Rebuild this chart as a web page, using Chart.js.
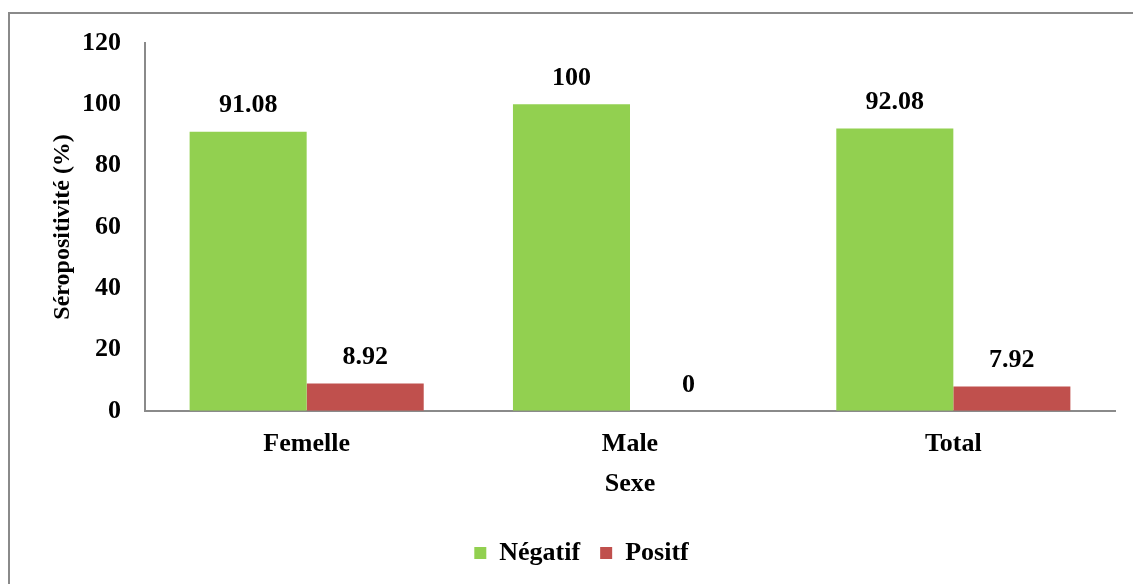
<!DOCTYPE html>
<html>
<head>
<meta charset="utf-8">
<script src="https://cdn.jsdelivr.net/npm/chart.js@4/dist/chart.umd.min.js"></script>
<style>
  html, body { margin: 0; padding: 0; background: #fff; overflow: hidden; }
  #wrap { position: relative; width: 1133px; height: 584px; }
  #frame {
    position: absolute; left: 8px; top: 12px; width: 1200px; height: 700px;
    border: 2px solid #8a8a8a; box-sizing: border-box; pointer-events: none;
  }
  canvas { position: absolute; left: 0; top: 0; }
</style>
</head>
<body>
<div id="wrap">
  <canvas id="chart" width="1133" height="584"></canvas>
  <div id="frame"></div>
</div>
<script>
// données du graphique
const categories = ['Femelle', 'Male', 'Total'];
const negatif = [91.08, 100, 92.08];
const positif = [8.92, 0, 7.92];
const yTicks = [0, 20, 40, 60, 80, 100, 120];

const FONT = '"Liberation Serif", "Times New Roman", serif';

// étiquettes de valeur au-dessus des barres
const barLabels = {
    id: 'barLabels',
    afterDatasetsDraw(chart) {
        const ctx = chart.ctx;
        ctx.save();
        ctx.font = 'bold 26px ' + FONT;
        ctx.fillStyle = '#000';
        ctx.textAlign = 'center';
        ctx.textBaseline = 'middle';
        chart.data.datasets.forEach((ds, i) => {
            const meta = chart.getDatasetMeta(i);
            meta.data.forEach((bar, j) => {
                ctx.fillText(String(ds.data[j]), bar.x, bar.y - 26);
            });
        });
        ctx.restore();
    }
};

const ctx = document.getElementById('chart');
new Chart(ctx, {
    type: 'bar',
    data: {
        labels: categories,
        datasets: [{
            label: 'Négatif',
            data: negatif,
            backgroundColor: '#92D050'
        }, {
            label: 'Positf',
            data: positif,
            backgroundColor: '#C0504D'
        }]
    },
    options: {
        responsive: false,
        animation: false,
        layout: {
            padding: { top: 43, left: 48, right: 18, bottom: 8 }
        },
        datasets: {
            bar: { categoryPercentage: 0.724, barPercentage: 1.0 }
        },
        scales: {
            x: {
                grid: { display: false, drawTicks: false },
                border: { display: true, color: '#8a8a8a', width: 2 },
                ticks: {
                    color: '#000',
                    padding: 18,
                    font: { family: FONT, size: 26, weight: 'bold' }
                },
                title: {
                    display: true,
                    text: 'Sexe',
                    color: '#000',
                    padding: 0,
                    font: { family: FONT, size: 26, weight: 'bold' }
                },
                afterFit(scale) { scale.height = 89; }
            },
            y: {
                min: 0,
                max: 120,
                grid: { display: false, drawTicks: false },
                border: { display: true, color: '#8a8a8a', width: 2 },
                afterBuildTicks(scale) {
                    scale.ticks = yTicks.map(v => ({ value: v }));
                },
                ticks: {
                    color: '#000',
                    padding: 24,
                    font: { family: FONT, size: 26, weight: 'bold' }
                },
                title: {
                    display: true,
                    text: 'Séropositivité (%)',
                    color: '#000',
                    padding: 0,
                    font: { family: FONT, size: 24, weight: 'bold' }
                },
                afterFit(scale) { scale.width = 97; }
            }
        },
        plugins: {
            legend: {
                position: 'bottom',
                // titre vide : sert seulement d'espace au-dessus de la légende
                title: {
                    display: true,
                    text: ' ',
                    padding: { top: 10, bottom: 9 },
                    font: { size: 1 }
                },
                labels: {
                    color: '#000',
                    boxWidth: 12,
                    boxHeight: 12,
                    padding: 20,
                    font: { family: FONT, size: 26, weight: 'bold' }
                }
            },
            tooltip: { enabled: false }
        }
    },
    plugins: [barLabels]
});
</script>
</body>
</html>
